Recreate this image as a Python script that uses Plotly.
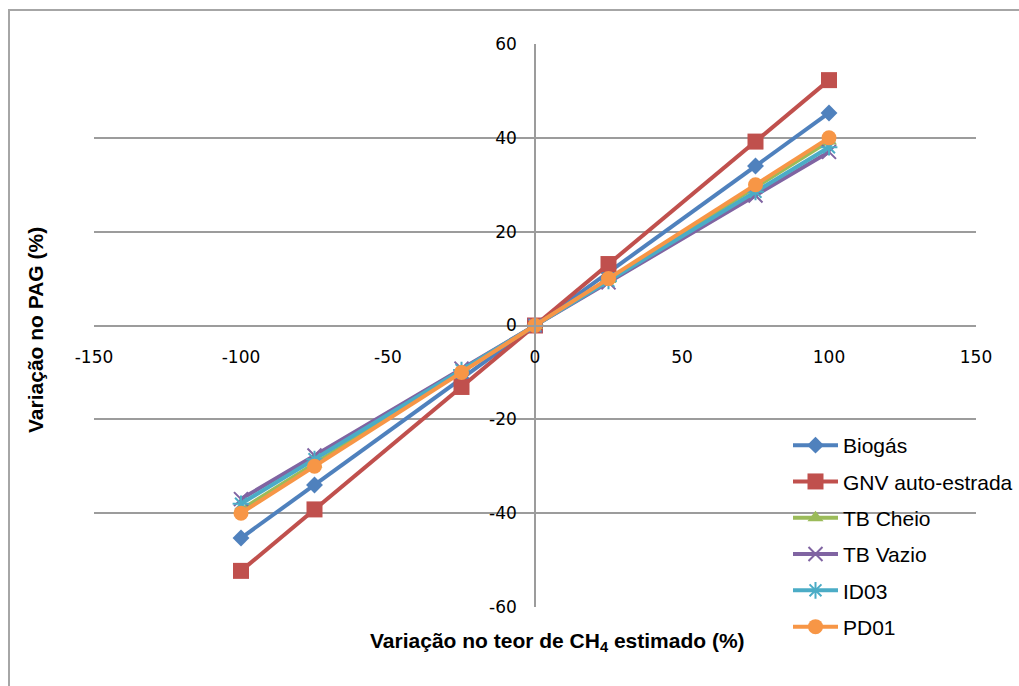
import plotly.graph_objects as go

x_vals = [-100, -75, -25, 0, 25, 75, 100]

series_names = ["Biogás", "GNV auto-estrada", "TB Cheio", "TB Vazio", "ID03", "PD01"]
biogas = [-45.3, -34.0, -11.3, 0, 11.3, 34.0, 45.3]
gnv = [-52.3, -39.2, -13.1, 0, 13.1, 39.2, 52.3]
tb_cheio = [-39.3, -29.5, -9.8, 0, 9.8, 29.5, 39.3]
tb_vazio = [-37.0, -27.7, -9.2, 0, 9.2, 27.7, 37.0]
id03 = [-38.0, -28.5, -9.5, 0, 9.5, 28.5, 38.0]
pd01 = [-40.0, -30.0, -10.0, 0, 10.0, 30.0, 40.0]

x_ticks = [-150, -100, -50, 0, 50, 100, 150]
y_ticks = [-60, -40, -20, 0, 20, 40, 60]

series_values = [biogas, gnv, tb_cheio, tb_vazio, id03, pd01]
colors = ["#4F81BD", "#C0504D", "#9BBB59", "#8064A2", "#4BACC6", "#F79646"]
symbols = ["diamond", "square", "triangle-up", "x-thin-open", "asterisk-open", "circle"]
sizes = [13, 16, 14, 14, 14, 15]

fig = go.Figure()
for i, (name, vals) in enumerate(zip(series_names, series_values)):
    marker = dict(symbol=symbols[i], size=sizes[i], color=colors[i])
    if symbols[i].endswith("open"):
        marker["line"] = dict(color=colors[i], width=2)
    fig.add_trace(go.Scatter(
        x=x_vals, y=vals, name=name, mode="lines+markers",
        line=dict(color=colors[i], width=4),
        marker=marker, legendgroup=f"g{i}",
    ))

grid_col = "#9C9C9C"
W, H = 1019, 686
L, R, T, B = 94, 976, 44, 607
pw, ph = R - L, B - T

def px_x(p):
    return (p - L) / pw

def px_y(p):
    return (B - p) / ph

fig.update_layout(
    width=W, height=H,
    margin=dict(l=L, r=W - R, t=T, b=H - B, autoexpand=False),
    paper_bgcolor="white", plot_bgcolor="white",
    font=dict(family="Liberation Sans, Arial, sans-serif", color="#000000"),
    xaxis=dict(
        range=[-150, 150], tickvals=x_ticks, ticktext=[str(v) for v in x_ticks],
        showgrid=False, zeroline=False, showline=True, linecolor=grid_col, linewidth=1.5,
        anchor="free", position=0.5, ticks="", ticklabelstandoff=16,
        tickfont=dict(family="DejaVu Sans", size=17, color="#000000"),
        automargin=False,
    ),
    yaxis=dict(
        range=[-60, 60], tickvals=y_ticks, ticktext=[str(v) for v in y_ticks],
        showgrid=True, gridcolor=grid_col, gridwidth=1.5, zeroline=False,
        showline=True, linecolor=grid_col, linewidth=1.5,
        anchor="free", position=0.5, ticks="", ticklabelstandoff=14,
        tickfont=dict(family="DejaVu Sans", size=17, color="#000000"),
        automargin=False,
    ),
    legend=dict(
        x=px_x(788), y=px_y(425), xanchor="left", yanchor="top",
        font=dict(family="Liberation Sans, Arial", size=21, color="#000000"),
        bgcolor="rgba(0,0,0,0)", tracegroupgap=6, traceorder="grouped",
        itemwidth=45,
    ),
    showlegend=True,
    annotations=[
        dict(text="<b>Variação no teor de CH<sub>4</sub> estimado (%)</b>", xref="paper", yref="paper",
             x=px_x(557), y=px_y(642), showarrow=False,
             font=dict(family="Liberation Sans, Arial", size=21, color="#000000"),
             xanchor="center", yanchor="middle"),
        dict(text="<b>Variação no PAG (%)</b>", xref="paper", yref="paper",
             x=px_x(35), y=px_y(330), showarrow=False, textangle=-90,
             font=dict(family="Liberation Sans, Arial", size=21, color="#000000"),
             xanchor="center", yanchor="middle"),
    ],
    shapes=[
        dict(type="rect", xref="paper", yref="paper",
             x0=px_x(9), x1=px_x(1030), y0=px_y(700), y1=px_y(10),
             line=dict(color="#A6A6A6", width=2), fillcolor="rgba(0,0,0,0)", layer="below"),
    ],
)

fig.write_html("out.html")
